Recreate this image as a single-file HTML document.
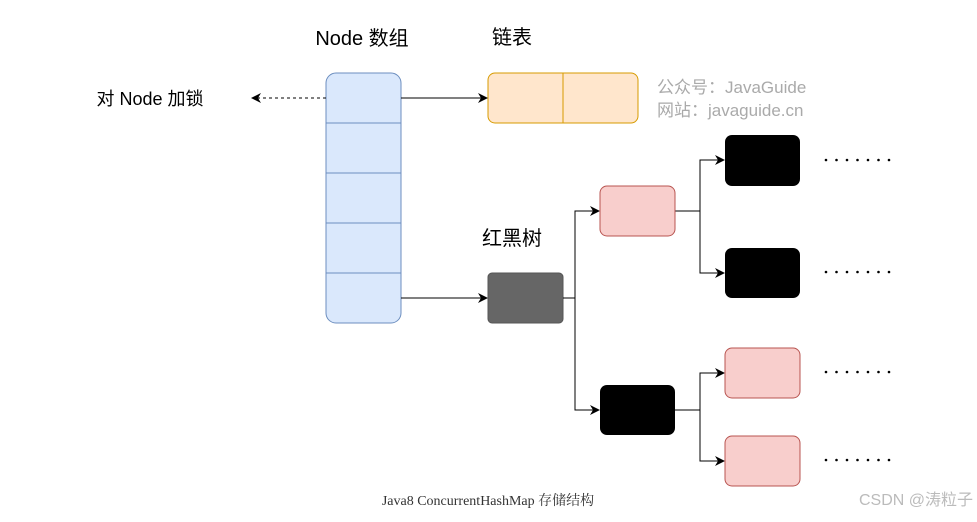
<!DOCTYPE html>
<html><head><meta charset="utf-8"><style>
body{margin:0;background:#fff;}
svg text{font-family:"Liberation Sans","Noto Sans CJK SC",sans-serif;}
</style></head><body>
<svg width="977" height="517" xmlns="http://www.w3.org/2000/svg">
<defs><marker id="a" markerWidth="10" markerHeight="10" refX="9" refY="5" orient="auto" markerUnits="userSpaceOnUse"><path d="M0,0 L10,5 L0,10 L3,5 z" fill="#000"/></marker>
<g id="d" fill="#000"><circle cx="826" cy="0" r="1.3"/><circle cx="836.5" cy="0" r="1.3"/><circle cx="847" cy="0" r="1.3"/><circle cx="857.5" cy="0" r="1.3"/><circle cx="868" cy="0" r="1.3"/><circle cx="878.5" cy="0" r="1.3"/><circle cx="889" cy="0" r="1.3"/></g></defs>
<text x="362" y="45" font-size="20" text-anchor="middle" fill="#000">Node 数组</text>
<text x="512" y="44" font-size="20" text-anchor="middle" fill="#000">链表</text>
<text x="512" y="245" font-size="20" text-anchor="middle" fill="#000">红黑树</text>
<text x="150" y="105" font-size="18" text-anchor="middle" fill="#000">对 Node 加锁</text>
<text x="657" y="93" font-size="17" fill="#aaa">公众号：JavaGuide</text>
<text x="657" y="116" font-size="17" fill="#aaa">网站：javaguide.cn</text>
<rect x="326" y="73" width="75" height="250" rx="10" fill="#dae8fc" stroke="#6c8ebf"/>
<g stroke="#6c8ebf"><line x1="326" y1="123" x2="401" y2="123"/><line x1="326" y1="173" x2="401" y2="173"/><line x1="326" y1="223" x2="401" y2="223"/><line x1="326" y1="273" x2="401" y2="273"/></g>
<rect x="488" y="73" width="150" height="50" rx="7" fill="#ffe6cc" stroke="#d79b00"/>
<line x1="563" y1="73" x2="563" y2="123" stroke="#d79b00"/>
<line x1="326" y1="98" x2="252" y2="98" stroke="#000" stroke-dasharray="3,3" marker-end="url(#a)"/>
<line x1="401" y1="98" x2="487" y2="98" stroke="#000" marker-end="url(#a)"/>
<line x1="401" y1="298" x2="487" y2="298" stroke="#000" marker-end="url(#a)"/>
<rect x="488" y="273" width="75" height="50" rx="4" fill="#666" stroke="#555"/>
<g fill="none" stroke="#000">
<path d="M563,298 H575 V211 H599" marker-end="url(#a)"/>
<path d="M575,298 V410 H599" marker-end="url(#a)"/>
<path d="M675,211 H700 V160 H724" marker-end="url(#a)"/>
<path d="M700,211 V273 H724" marker-end="url(#a)"/>
<path d="M675,410 H700 V373 H724" marker-end="url(#a)"/>
<path d="M700,410 V461 H724" marker-end="url(#a)"/>
</g>
<rect x="600" y="186" width="75" height="50" rx="7" fill="#f8cecc" stroke="#b85450"/>
<rect x="600" y="385" width="75" height="50" rx="7" fill="#000"/>
<rect x="725" y="135" width="75" height="51" rx="7" fill="#000"/>
<rect x="725" y="248" width="75" height="50" rx="7" fill="#000"/>
<rect x="725" y="348" width="75" height="50" rx="7" fill="#f8cecc" stroke="#b85450"/>
<rect x="725" y="436" width="75" height="50" rx="7" fill="#f8cecc" stroke="#b85450"/>
<use href="#d" y="160"/><use href="#d" y="272"/><use href="#d" y="372"/><use href="#d" y="460"/>
<text x="488" y="505" font-size="14" text-anchor="middle" fill="#333" style="font-family:'Liberation Serif','Noto Serif CJK SC',serif">Java8 ConcurrentHashMap 存储结构</text>
<text x="973" y="505" font-size="16" text-anchor="end" fill="#bbb">CSDN @涛粒子</text>
</svg>
</body></html>
